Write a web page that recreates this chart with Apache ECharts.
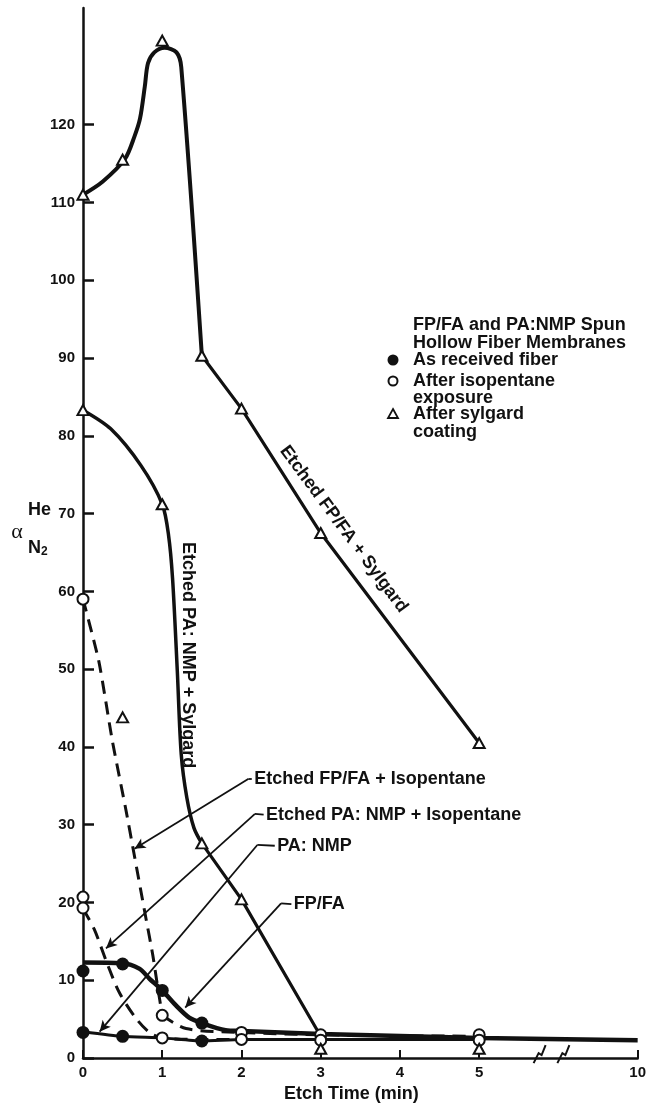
<!DOCTYPE html>
<html>
<head>
<meta charset="utf-8">
<script src="https://cdn.jsdelivr.net/npm/echarts@6/dist/echarts.min.js"></script>
<style>
html,body{margin:0;padding:0;background:#fff;}
#main{width:649px;height:1108px;}
</style>
</head>
<body>
<div id="main"></div>
<script>
// tick labels
var xTicks=[0,1,2,3,4,5,10];
var yTicks=[0,10,20,30,40,50,60,70,80,90,100,110,120];

// curves: [etch time (min), alpha He/N2]
var fpfaSylgard=[[0,111],[0.25,112.7],[0.53,115.6],[0.65,118.5],[0.72,120.8],[0.78,124.9],[0.82,127.9],[0.9,129.3],[1.03,129.9],[1.18,129.3],[1.24,127.4],[1.5,90.3],[2,83.5],[3,67.5],[5,40.5]];
var panmpSylgard=[[0,83.3],[0.35,80.9],[0.73,76.2],[1,71.2],[1.08,67.2],[1.13,61.7],[1.19,49.8],[1.24,39],[1.31,33.5],[1.4,29.6],[1.5,27.6],[2,20.4],[3,2.8]];
var fpfaIsopentane=[[0,59],[0.2,51],[0.37,40.8],[0.54,32],[0.64,26.5],[0.79,18.2],[0.88,13.3],[0.94,9.3],[1,5.5],[1.3,3.8],[2,3.3],[3,3.0],[5,2.8]];
var panmpIsopentane=[[0,19.2],[0.14,16.6],[0.3,12.3],[0.46,8.4],[0.67,5.1],[0.84,3.3],[1,2.6],[1.5,2.4],[2,2.4],[3,2.4],[5,2.4]];
var fpfa=[[0,12.3],[0.5,12.2],[0.71,11.5],[0.84,10.2],[1,8.7],[1.17,6.8],[1.34,5.2],[1.5,4.5],[1.8,3.6],[2,3.5],[3,3.1],[5,2.6],[10,2.3]];
var panmp=[[0,3.4],[0.5,2.8],[1,2.6],[1.5,2.2],[2,2.4],[3,2.4],[5,2.4]];

// measured points by treatment
var receivedPts=[[0,11.2],[0.5,12.1],[1,8.7],[1.5,4.5],[0,3.3],[0.5,2.8],[1.5,2.2]];
var isopentanePts=[[0,59],[0,20.7],[0,19.3],[1,5.5],[1,2.6],[2,3.3],[2,2.4],[3,3.0],[3,2.3],[5,3.0],[5,2.3]];
var sylgardPts=[[0,111],[0.5,115.5],[1,130.8],[1.5,90.3],[2,83.5],[3,67.5],[5,40.5],[0,83.3],[1,71.2],[0.5,43.8],[1.5,27.6],[2,20.4],[3,1.2],[5,1.2]];

// callouts
var noteTexts=['Etched FP/FA + Isopentane','Etched PA: NMP + Isopentane','PA: NMP','FP/FA'];
var noteAt=[[2.16,35.9],[2.31,31.3],[2.45,27.3],[2.66,19.8]];
var noteBend=[[2.09,35.9],[2.17,31.4],[2.2,27.4],[2.5,19.9]];
var noteTip=[[0.65,26.9],[0.29,14.1],[0.21,3.4],[1.29,6.5]];

// axis is broken between 5 and 10: 10 is drawn where 7 would be
function bx(v){ return v<=5 ? v : 5+(v-5)*0.4; }
function pts(a){
    var k=[];
    for(var i=0;i<a.length;i++){ k.push([bx(a[i][0]),a[i][1]]); }
    return k;
}

var FONT='Liberation Sans';
var ink='#111';

var chart=echarts.init(document.getElementById('main'));

function curve(name,data,w,dashed,sm){
    return {
        name:name,
        type:'line',
        data:pts(data),
        showSymbol:false,
        smooth:sm,
        silent:true,
        z:2,
        lineStyle:{color:ink,width:w,type:dashed?[13,8]:'solid'}
    };
}

var marks=[];
for(var i=0;i<noteTexts.length;i++){
    marks.push([{coord:[noteAt[i][0]-0.03,noteAt[i][1]],symbol:'none'},{coord:noteBend[i],symbol:'none'}]);
    marks.push([{coord:noteBend[i],symbol:'none'},{coord:noteTip[i],symbol:'arrow'}]);
}

var panmpSeries=curve('PA: NMP',panmp,3,false,0.2);
panmpSeries.markLine={
    silent:true,
    symbolSize:[8,11],
    label:{show:false},
    lineStyle:{color:ink,width:1.8,type:'solid'},
    data:marks
};

// the sylgard curves have a sharp corner at 1.5 min: curved part, then straight part
var option={
    animation:false,
    backgroundColor:'#fff',
    grid:{left:83,right:7,top:8,bottom:45},
    xAxis:{
        type:'value',
        min:0,
        max:7,
        axisLine:{lineStyle:{color:ink,width:2.5}},
        axisTick:{inside:true,length:8,lineStyle:{color:ink,width:2},customValues:xTicks.map(bx)},
        axisLabel:{
            customValues:xTicks.map(bx),
            margin:7,
            color:ink,
            fontFamily:FONT,
            fontWeight:'bold',
            fontSize:15,
            formatter:function(v){ return v===7?'10':String(v); }
        },
        splitLine:{show:false},
        name:'Etch Time (min)',
        nameLocation:'middle',
        nameGap:25,
        nameTextStyle:{color:ink,fontFamily:FONT,fontWeight:'bold',fontSize:18,padding:[0,18,0,0]}
    },
    yAxis:{
        type:'value',
        min:0,
        max:135,
        axisLine:{show:true,lineStyle:{color:ink,width:2.5}},
        axisTick:{show:true,inside:true,length:11,lineStyle:{color:ink,width:2.5},customValues:yTicks},
        axisLabel:{customValues:yTicks,margin:8,color:ink,fontFamily:FONT,fontWeight:'bold',fontSize:15},
        splitLine:{show:false}
    },
    series:[
        curve('Etched FP/FA + Sylgard',fpfaSylgard.slice(0,12),4,false,0.3),
        curve('Etched FP/FA + Sylgard',fpfaSylgard.slice(11),3.2,false,false),
        curve('Etched PA: NMP + Sylgard',panmpSylgard.slice(0,11),3.5,false,0.3),
        curve('Etched PA: NMP + Sylgard',panmpSylgard.slice(10),3.2,false,false),
        curve('Etched FP/FA + Isopentane',fpfaIsopentane.slice(0,9),3,true,0.2),
        curve('Etched FP/FA + Isopentane',fpfaIsopentane.slice(8),3,true,0.3),
        curve('Etched PA: NMP + Isopentane',panmpIsopentane,3,true,0.3),
        curve('FP/FA',fpfa,4.5,false,0.3),
        panmpSeries,
        {
            name:'As received fiber',type:'scatter',data:pts(receivedPts),z:5,
            symbol:'circle',symbolSize:13,itemStyle:{color:ink,opacity:1}
        },
        {
            name:'After isopentane exposure',type:'scatter',data:pts(isopentanePts),z:6,
            symbol:'circle',symbolSize:11,itemStyle:{color:'#fff',borderColor:ink,borderWidth:2,opacity:1}
        },
        {
            name:'After sylgard coating',type:'scatter',data:pts(sylgardPts),z:6,
            symbol:'triangle',symbolSize:[11,10],itemStyle:{color:'#fff',borderColor:ink,borderWidth:2,opacity:1}
        }
    ]
};
chart.setOption(option);

function px(p){ return chart.convertToPixel({gridIndex:0},[bx(p[0]),p[1]]); }
function txt(x,y,s,size,extra){
    var o={type:'text',x:x,y:y,z:10,style:{text:s,fill:ink,font:'bold '+size+'px "'+FONT+'"',textAlign:'left',textVerticalAlign:'middle'}};
    if(extra){ for(var k in extra){ o[k]=extra[k]; } }
    return o;
}

var g=[];
// callout labels
for(var i=0;i<noteTexts.length;i++){
    var p=px(noteAt[i]);
    g.push(txt(p[0],p[1],noteTexts[i],18));
}
// labels along the sylgard curves
var c1=px([1.33,51.8]);
var t1=txt(c1[0],c1[1],'Etched PA: NMP + Sylgard',18,{rotation:-Math.PI/2});
t1.style.textAlign='center';
g.push(t1);
var c2=px([3.29,68]);
var t2=txt(c2[0],c2[1],'Etched FP/FA + Sylgard',18,{rotation:-53.5*Math.PI/180});
t2.style.textAlign='center';
g.push(t2);

// y axis name: alpha He / N2
g.push({type:'text',x:17,y:532,z:10,style:{text:'α',fill:ink,font:'22px "Liberation Serif"',textAlign:'center',textVerticalAlign:'middle'}});
g.push(txt(28,510,'He',18));
g.push({type:'text',x:28,y:548,z:10,style:{
    text:'{n|N}{s|2}',fill:ink,textAlign:'left',textVerticalAlign:'middle',
    rich:{n:{font:'bold 18px "'+FONT+'"',fill:ink},s:{font:'bold 12px "'+FONT+'"',fill:ink,padding:[8,0,0,0]}}
}});

// legend block
g.push(txt(413,325,'FP/FA and PA:NMP Spun',18));
g.push(txt(413,343,'Hollow Fiber Membranes',18));
g.push({type:'circle',z:10,shape:{cx:393,cy:360,r:5.5},style:{fill:ink}});
g.push(txt(413,360,'As received fiber',18));
g.push({type:'circle',z:10,shape:{cx:393,cy:381,r:4.5},style:{fill:'#fff',stroke:ink,lineWidth:2}});
g.push(txt(413,381,'After isopentane',18));
g.push(txt(413,398,'exposure',18));
g.push({type:'polygon',z:10,shape:{points:[[393,409],[398,418],[388,418]]},style:{fill:'#fff',stroke:ink,lineWidth:1.8}});
g.push(txt(413,414,'After sylgard',18));
g.push(txt(413,432,'coating',18));

// break marks on the time axis
var bk=[5.75,6.05];
for(var j=0;j<bk.length;j++){
    var q=chart.convertToPixel({gridIndex:0},[bk[j],0]);
    g.push({type:'polyline',x:q[0],y:q[1]-4,z:10,shape:{points:[[-5,9],[0,-1],[3,1],[7,-9]]},style:{stroke:ink,lineWidth:2,fill:null}});
}

chart.setOption({graphic:g});
</script>
</body>
</html>
